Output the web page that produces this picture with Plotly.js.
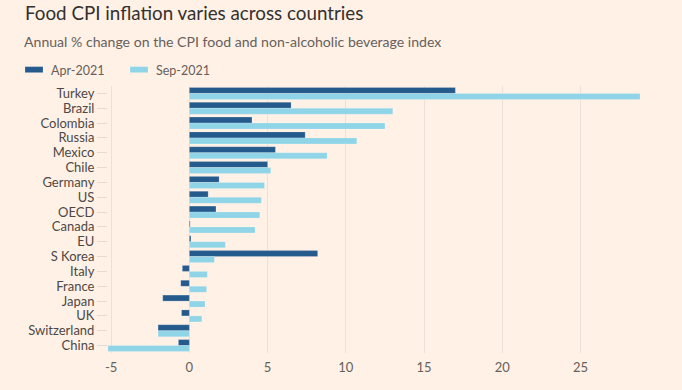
<!DOCTYPE html>
<html>
<head>
<meta charset="utf-8">
<script src="https://cdn.plot.ly/plotly-3.0.1.min.js"></script>
<style>
html,body{margin:0;padding:0;background:#fff1e5;}
#chart{width:682px;height:390px;}
</style>
</head>
<body>
<div id="chart"></div>
<script>
var countries = ["Turkey","Brazil","Colombia","Russia","Mexico","Chile","Germany","US","OECD","Canada","EU","S Korea","Italy","France","Japan","UK","Switzerland","China"];
var apr2021 = [17.0, 6.5, 4.0, 7.4, 5.5, 5.0, 1.9, 1.2, 1.7, 0.05, 0.1, 8.2, -0.45, -0.55, -1.7, -0.5, -2.0, -0.7];
var sep2021 = [28.8, 13.0, 12.5, 10.7, 8.8, 5.2, 4.8, 4.6, 4.5, 4.2, 2.3, 1.6, 1.15, 1.1, 1.0, 0.8, -2.0, -5.2];
var xTicks = [-5, 0, 5, 10, 15, 20, 25];
var titleText = 'Food CPI inflation varies across countries';
var subtitleText = 'Annual % change on the CPI food and non-alcoholic beverage index';

var fontFam = "Lato, 'Open Sans', sans-serif";
var traces = [
  {type:'bar', orientation:'h', name:'Apr-2021', y:countries, x:apr2021,
   marker:{color:'#245a8c', line:{color:'rgba(255,255,255,0.25)', width:0.8}}, hoverinfo:'x+y'},
  {type:'bar', orientation:'h', name:'Sep-2021', y:countries, x:sep2021,
   marker:{color:'#8fd4e7', line:{color:'rgba(255,255,255,0.25)', width:0.8}}, hoverinfo:'x+y'}
];
var layout = {
  width:682, height:390,
  paper_bgcolor:'#fff1e5', plot_bgcolor:'#fff1e5',
  font:{family:fontFam, color:'#66605c', size:13},
  margin:{l:108, r:42, t:86, b:37},
  title:{
    text:titleText,
    font:{family:fontFam, size:18.8, color:'#33302e'},
    x:25/682, xref:'container', xanchor:'left',
    y:1-13/390, yref:'container', yanchor:'middle'
  },
  annotations:[
    {text:subtitleText, xref:'paper', yref:'paper', x:(22-108)/532, y:1+(86-41)/267,
     xanchor:'left', yanchor:'middle', showarrow:false,
     font:{family:fontFam, size:14.1, color:'#66605c'}}
  ],
  barmode:'group', bargap:0.19, bargroupgap:0,
  showlegend:true,
  legend:{orientation:'h', xref:'container', yref:'container', x:11/682, xanchor:'left',
          y:1-55/390, yanchor:'top', font:{family:fontFam, size:12.5, color:'#66605c'},
          bgcolor:'rgba(0,0,0,0)', traceorder:'normal', entrywidth:60},
  xaxis:{range:[-5.2, 28.8], tickvals:xTicks, ticktext:xTicks.map(function(v){return String(v);}),
         showgrid:true, gridcolor:'#ebe1d8', gridwidth:1, zeroline:false, showline:false,
         ticks:'', ticklabelstandoff:5, tickfont:{size:13, color:'#66605c'}, fixedrange:true},
  yaxis:{autorange:'reversed', type:'category', tickmode:'array', tickvals:countries, ticktext:countries,
         showgrid:false, zeroline:false, showline:false,
         ticks:'outside', ticklen:10, tickcolor:'#e6dbd2', tickwidth:1,
         tickfont:{size:13, color:'#4d4845'}, fixedrange:true}
};
Plotly.newPlot('chart', traces, layout, {displayModeBar:false}).then(function(gd){
  var paths = gd.querySelectorAll('.legend .legendpoints path');
  paths.forEach(function(p){ p.setAttribute('d','M12,3H-6V-3H12Z'); });
});
</script>
</body>
</html>
